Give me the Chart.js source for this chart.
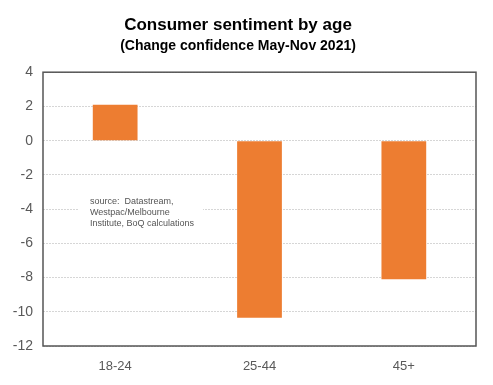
<!DOCTYPE html>
<html>
<head>
<meta charset="utf-8">
<script src="https://cdn.jsdelivr.net/npm/chart.js@4"></script>
<style>
  html, body { margin: 0; padding: 0; background: #fff; }
  #wrap { width: 493px; height: 385px; }
</style>
</head>
<body>
<div id="wrap"><canvas id="sentChart"></canvas></div>
<script>
// Data
const ageGroups = ['18-24', '25-44', '45+'];
const confidenceChange = [2.1, -10.35, -8.1];
const sourceNote = ['source:  Datastream,', 'Westpac/Melbourne', 'Institute, BoQ calculations'];

// Frame round the plot area + the source note box
const framePlugin = {
    id: 'frame',
    beforeDatasetsDraw(chart) {
        const { ctx, chartArea } = chart;
        const x = chartArea.left + 35, y = chartArea.top + 118;
        ctx.save();
        ctx.fillStyle = '#fff';
        ctx.fillRect(x, y, 125, 44);
        ctx.fillStyle = '#555';
        ctx.font = '9px "Liberation Sans", Arial';
        ctx.textBaseline = 'middle';
        sourceNote.forEach((line, i) => ctx.fillText(line, x + 12, y + 11 + i * 11));
        ctx.restore();
    },
    afterDraw(chart) {
        const { ctx, chartArea } = chart;
        ctx.save();
        ctx.strokeStyle = '#555';
        ctx.lineWidth = 1.5;
        ctx.strokeRect(chartArea.left, chartArea.top, chartArea.right - chartArea.left, chartArea.bottom - chartArea.top);
        ctx.restore();
    }
};

const ctx = document.getElementById('sentChart').getContext('2d');
new Chart(ctx, {
    type: 'bar',
    data: {
        labels: ageGroups,
        datasets: [{
            data: confidenceChange,
            backgroundColor: '#ED7D31',
            borderWidth: 0,
            categoryPercentage: 1,
            barPercentage: 0.31
        }]
    },
    options: {
        responsive: true,
        maintainAspectRatio: false,
        animation: false,
        layout: { padding: { left: 0, right: 17, top: 5, bottom: 0 } },
        scales: {
            y: {
                min: -12,
                max: 4,
                ticks: {
                    stepSize: 2,
                    color: '#595959',
                    font: { family: '"Liberation Sans", Arial', size: 14 },
                    padding: 10
                },
                grid: { color: '#d6d6d6', lineWidth: 1, drawTicks: false },
                border: { display: false, dash: [2, 1] },
                afterFit(scale) { scale.width = 43; }
            },
            x: {
                ticks: {
                    color: '#595959',
                    font: { family: '"Liberation Sans", Arial', size: 13 },
                    padding: 5
                },
                grid: { display: false },
                border: { display: false },
                afterFit(scale) { scale.height = 39; }
            }
        },
        plugins: {
            legend: { display: false },
            tooltip: { enabled: false },
            title: {
                display: true,
                text: 'Consumer sentiment by age',
                color: '#000',
                font: { family: '"Liberation Sans", Arial', size: 17, weight: 'bold' },
                padding: { top: 10, bottom: 2 }
            },
            subtitle: {
                display: true,
                text: '(Change confidence May-Nov 2021)',
                color: '#000',
                font: { family: '"Liberation Sans", Arial', size: 14, weight: 'bold' },
                padding: { top: 0, bottom: 18 }
            }
        }
    },
    plugins: [framePlugin]
});
</script>
</body>
</html>
